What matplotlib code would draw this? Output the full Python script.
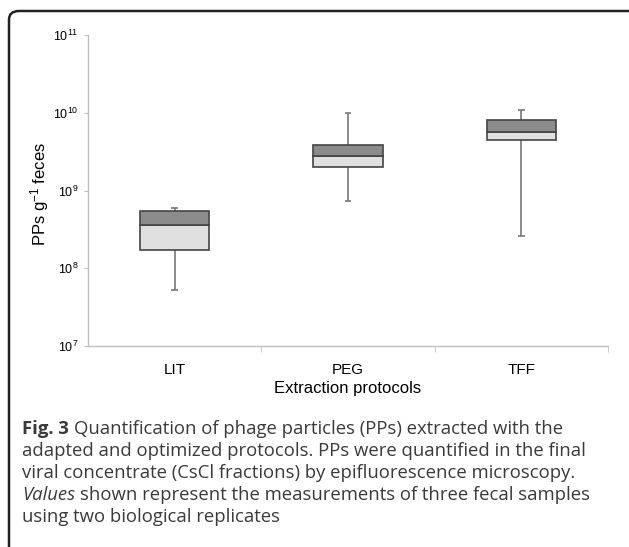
import math

import matplotlib
matplotlib.use('Agg')
import matplotlib.pyplot as plt
from matplotlib import ticker
from matplotlib.patches import FancyBboxPatch

# box statistics (PPs per g feces)
protocols = ['LIT', 'PEG', 'TFF']
whisker_low = [5.2e7, 7.3e8, 2.6e8]
q1 = [1.7e8, 2.0e9, 4.4e9]
median = [3.6e8, 2.8e9, 5.6e9]
q3 = [5.5e8, 3.85e9, 8.1e9]
whisker_high = [6.0e8, 1.0e10, 1.07e10]

caption_lines = [
    'adapted and optimized protocols. PPs were quantified in the final',
    'viral concentrate (CsCl fractions) by epifluorescence microscopy.',
]

plt.rcParams['mathtext.fontset'] = 'custom'
plt.rcParams['mathtext.rm'] = 'Liberation Sans'
plt.rcParams['mathtext.it'] = 'Liberation Sans:italic'
plt.rcParams['font.family'] = 'Liberation Sans'

W, H = 629, 547
fig = plt.figure(figsize=(W / 100, H / 100), dpi=100)

# rounded frame around the figure panel
frame = FancyBboxPatch((9 / W, -0.1), 640 / W, 1.1 - 11 / H,
                       boxstyle='round,pad=0,rounding_size=0.016',
                       transform=fig.transFigure, fill=False,
                       edgecolor='#222222', linewidth=1.8)
fig.patches.append(frame)

ax = fig.add_axes([88 / W, 1 - 346 / H, (608 - 88) / W, (346 - 35) / H])
ax.set_yscale('log')
ax.set_ylim(1e7, 1e11)
ax.set_xlim(0.5, 3.5)

pos = [1, 2, 3]
width = 0.4
ax.vlines(pos, whisker_low, q1, color='#777777', linewidth=1.2, zorder=1)
ax.vlines(pos, q3, whisker_high, color='#777777', linewidth=1.2, zorder=1)
ax.hlines(whisker_low + whisker_high, [p - 0.02 for p in pos] * 2,
          [p + 0.02 for p in pos] * 2, color='#777777', linewidth=1.2)
ax.bar(pos, [m - a for m, a in zip(median, q1)], bottom=q1, width=width,
       color='#e0e0e0', edgecolor='#444444', linewidth=1.2, zorder=2)
ax.bar(pos, [b - m for b, m in zip(q3, median)], bottom=median, width=width,
       color='#8c8c8c', edgecolor='#444444', linewidth=1.2, zorder=2)

for side in ['top', 'right']:
    ax.spines[side].set_visible(False)
for side in ['left', 'bottom']:
    ax.spines[side].set_color('#c0c0c0')
    ax.spines[side].set_linewidth(1.0)

ax.yaxis.set_major_locator(ticker.LogLocator(base=10, numticks=10))
ax.yaxis.set_minor_locator(ticker.NullLocator())
ax.yaxis.set_major_formatter(ticker.FuncFormatter(
    lambda v, p: r'$\mathregular{10^{%d}}$' % round(math.log10(v))))
ax.tick_params(axis='y', length=3, color='#c0c0c0', labelsize=9, pad=4)

ax.set_xticks(pos)
ax.set_xticklabels(protocols)
ax.set_xticks([1.5, 2.5, 3.5], minor=True)
ax.tick_params(axis='x', which='major', length=0, labelsize=11, pad=12)
ax.tick_params(axis='x', which='minor', length=4, color='#c0c0c0')

ax.set_xlabel('Extraction protocols', fontsize=12, labelpad=3)
ax.set_ylabel(r'PPs g$^{\mathregular{-1}}$ feces', fontsize=12)
ax.yaxis.set_label_coords(-0.072, 0.49)

# caption with mixed bold / italic runs
x0 = 22
baselines = [434, 456, 478, 500, 522]
renderer = fig.canvas.get_renderer()


def run(x, y, s, **kw):
    t = fig.text(x / W, 1 - y / H, s, transform=fig.transFigure,
                 family='Open Sans', fontsize=13.3, color='#3a3a3a',
                 va='baseline', **kw)
    return x + t.get_window_extent(renderer).width


x = run(x0, baselines[0], 'Fig. 3', weight='bold')
run(x + 5, baselines[0], 'Quantification of phage particles (PPs) extracted with the')
run(x0, baselines[1], caption_lines[0])
run(x0, baselines[2], caption_lines[1])
x = run(x0, baselines[3], 'Values', style='italic')
run(x + 5, baselines[3], 'shown represent the measurements of three fecal samples')
run(x0, baselines[4], 'using two biological replicates')

fig.savefig('out.png', dpi=100)
